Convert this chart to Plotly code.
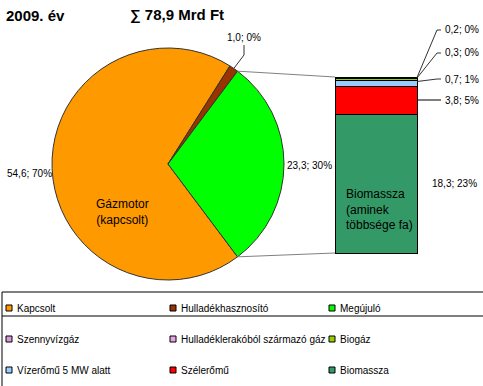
import math
import plotly.graph_objects as go

W, H = 483, 386
FONT = "Liberation Sans, Arial, sans-serif"

# ---------------- data ----------------
title_year = "2009. év"
title_total = "∑ 78,9 Mrd Ft"

pie_labels = ["Kapcsolt", "Hulladékhasznosító", "Megújuló"]
pie_values = [54.6, 1.0, 23.3]
pie_pcts = [70, 0, 30]
pie_colors = ["#FF9900", "#993300", "#00FF00"]
pie_inner_text = "Gázmotor<br>(kapcsolt)"

bar_labels = ["Szennyvízgáz", "Hulladéklerakóból származó gáz", "Biogáz",
              "Vízerőmű 5 MW alatt", "Szélerőmű", "Biomassza"]
bar_values = [0.0, 0.2, 0.3, 0.7, 3.8, 18.3]
bar_pcts = [0, 0, 0, 1, 5, 23]
bar_colors = ["#D59BDB", "#E8A2E8", "#99CC00", "#99CCFF", "#FF0000", "#339966"]
bar_inner_text = "Biomassza<br>(aminek<br>többsége fa)"


def fmt(v, p):
    return f"{v:.1f}".replace(".", ",") + f"; {p}%"


def px(x):
    return x / W


def py(y):
    return 1 - y / H


# ---------------- layout geometry (pixels) ----------------
cx, cy, r = 168, 164, 116
bar_l, bar_r, bar_t, bar_b = 335, 417, 77, 253
pad = 2

fig = go.Figure()

# pie: rotate so that the exploded slice (last) is centred at 3 o'clock
tot = sum(pie_values)
fr = [v / tot for v in pie_values]
before = sum(fr[:-1])
rotation = (90 - 180 * fr[-1] - 360 * before) % 360
if rotation > 180:
    rotation -= 360

fig.add_trace(go.Pie(
    labels=pie_labels, values=pie_values, sort=False, direction="clockwise",
    rotation=rotation, textinfo="none", hoverinfo="label+value",
    marker=dict(colors=pie_colors, line=dict(color="#333333", width=1)),
    domain=dict(x=[px(cx - r), px(cx + r)], y=[py(cy + r), py(cy - r)]),
    showlegend=False,
))

# stacked bar (bottom = last category)
btot = sum(bar_values)
for lab, v, c in reversed(list(zip(bar_labels, bar_values, bar_colors))):
    fig.add_trace(go.Bar(
        x=[0], y=[v], width=1, name=lab, xaxis="x2", yaxis="y2",
        marker=dict(color=c, line=dict(color="#000000", width=1)),
        showlegend=False, hoverinfo="name+y",
    ))

xpad = pad / (bar_r - bar_l)
ypad = pad * btot / (bar_b - bar_t)
fig.update_layout(
    barmode="stack",
    xaxis2=dict(domain=[px(bar_l - pad), px(bar_r + pad)], range=[-0.5 - xpad, 0.5 + xpad],
                visible=False, anchor="y2"),
    yaxis2=dict(domain=[py(bar_b + pad), py(bar_t - pad)], range=[-ypad, btot + ypad],
                visible=False, anchor="x2"),
    xaxis=dict(visible=False), yaxis=dict(visible=False),
)

shapes = []
annots = []


def line(x0, y0, x1, y1, color="#222222", width=1):
    shapes.append(dict(type="line", xref="paper", yref="paper",
                       x0=px(x0), y0=py(y0), x1=px(x1), y1=py(y1),
                       line=dict(color=color, width=width)))


def path(pts, color="#333333", width=1):
    d = "M " + " L ".join(f"{px(a)},{py(b)}" for a, b in pts)
    shapes.append(dict(type="path", xref="paper", yref="paper", path=d,
                       line=dict(color=color, width=width)))


def ann(x, y, text, size=10, xanchor="left", bold=False, align="left"):
    if bold:
        text = f"<b>{text}</b>"
    annots.append(dict(x=px(x), y=py(y), xref="paper", yref="paper", text=text,
                       showarrow=False, xanchor=xanchor, yanchor="middle", align=align,
                       font=dict(family=FONT, size=size, color="#000000")))


def pie_pt(angle_deg, rr=r):
    a = math.radians(angle_deg)
    return cx + rr * math.sin(a), cy - rr * math.cos(a)


# connector lines from the green slice to the bar
a_start = rotation + 360 * before
a_end = rotation + 360
p1 = pie_pt(a_start)
p2 = pie_pt(a_end)
line(p1[0], p1[1], bar_l, bar_t, color="#808080")
line(p2[0], p2[1], bar_l, bar_b, color="#808080")

# titles
ann(4, 15, title_year, size=15, bold=True)
ann(128, 15, title_total, size=15, bold=True)

# pie labels
ann(54, 173, fmt(pie_values[0], pie_pcts[0]), xanchor="right")
ann(285, 165, fmt(pie_values[2], pie_pcts[2]))
small_mid = pie_pt(rotation + 360 * (fr[0] + fr[1] / 2))
path([small_mid, (244, 55), (244, 45)])
ann(244, 37, fmt(pie_values[1], pie_pcts[1]), xanchor="center")
ann(122, 212, pie_inner_text, size=12, xanchor="center", align="center")

# bar labels
path([(417, 77.5), (437, 30), (441, 30)])
ann(443, 29, fmt(bar_values[1], bar_pcts[1]))
path([(417, 78), (437, 53), (441, 53)])
ann(443, 52, fmt(bar_values[2], bar_pcts[2]))
path([(417, 81.5), (437, 79), (441, 79)])
ann(443, 79, fmt(bar_values[3], bar_pcts[3]))
line(417, 100, 441, 100, color="#000000")
ann(443, 100, fmt(bar_values[4], bar_pcts[4]))
ann(430, 184, fmt(bar_values[5], bar_pcts[5]))
ann(344, 209, bar_inner_text, size=12)

# legend box
line(2, 292, 483, 292, color="#000000")
line(2, 316, 483, 316, color="#000000")
line(2, 292, 2, 386, color="#000000")

leg_items = list(zip(pie_labels, pie_colors)) + list(zip(bar_labels, bar_colors))
col_x = [6, 170, 329]
row_y = [308, 339, 370]
for i, (lab, col) in enumerate(leg_items):
    x0 = col_x[i % 3]
    y0 = row_y[i // 3]
    shapes.append(dict(type="rect", xref="paper", yref="paper",
                       x0=px(x0), x1=px(x0 + 6), y0=py(y0 + 3), y1=py(y0 - 3),
                       fillcolor=col, line=dict(color="#000000", width=1)))
    ann(x0 + 9, y0, lab, size=10)

fig.update_layout(
    width=W, height=H, margin=dict(l=0, r=0, t=0, b=0),
    paper_bgcolor="white", plot_bgcolor="white",
    shapes=shapes, annotations=annots, showlegend=False,
    font=dict(family=FONT),
)

fig.write_html("out.html", config={"displayModeBar": False},
               post_script="document.body.style.margin='0';document.body.style.overflow='hidden';")
